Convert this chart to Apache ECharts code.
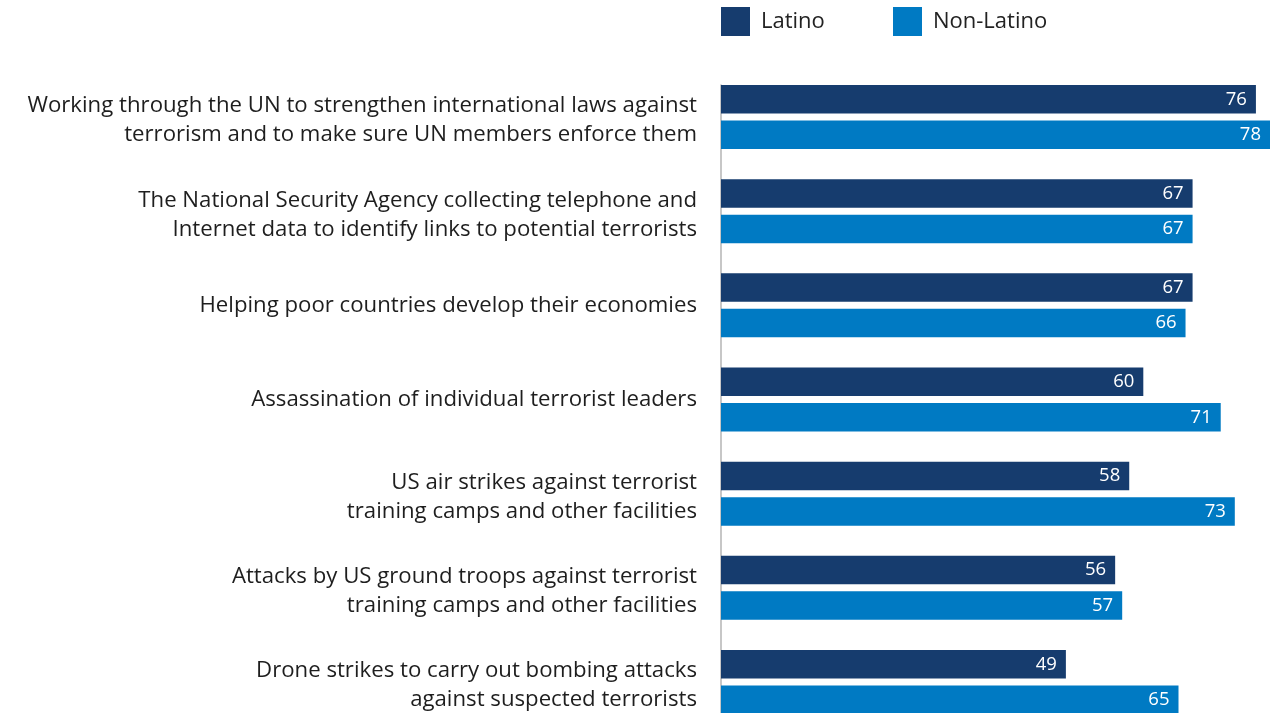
<!DOCTYPE html>
<html>
<head>
<meta charset="utf-8">
<style>
  html, body { margin: 0; padding: 0; background: #ffffff; width: 1271px; height: 713px; overflow: hidden; }
  #chart { width: 1271px; height: 745px; }
</style>
<script src="https://cdn.jsdelivr.net/npm/echarts@6/dist/echarts.min.js"></script>
</head>
<body>
<div id="chart"></div>
<script>
const categories = [
  "Working through the UN to strengthen international laws against\nterrorism and to make sure UN members enforce them",
  "The National Security Agency collecting telephone and\nInternet data to identify links to potential terrorists",
  "Helping poor countries develop their economies",
  "Assassination of individual terrorist leaders",
  "US air strikes against terrorist\ntraining camps and other facilities",
  "Attacks by US ground troops against terrorist\ntraining camps and other facilities",
  "Drone strikes to carry out bombing attacks\nagainst suspected terrorists"
];
const seriesNames = ["Latino", "Non-Latino"];
const latino = [76, 67, 67, 60, 58, 56, 49];
const nonLatino = [78, 67, 66, 71, 73, 57, 65];
const spacer = [0, 0, 0, 0, 0, 0, 0];

const colors = ["#163c6e", "#007ac3"];
const FONT = "'Open Sans', 'Noto Sans', sans-serif";

const chart = echarts.init(document.getElementById("chart"), null, { renderer: "canvas" });

const bandH = 94.17;
const barH = 28.5;
const gapPx = 7;

const valueLabel = {
  show: true,
  position: "insideRight",
  distance: 9,
  color: "#ffffff",
  fontFamily: FONT,
  fontSize: 18.5
};

const legendText = { fontFamily: FONT, fontSize: 22, color: "#222222", padding: [4, 0, 0, 6] };

chart.setOption({
  animation: false,
  backgroundColor: "#ffffff",
  textStyle: { fontFamily: FONT },
  legend: [
    {
      data: [seriesNames[0]],
      left: 721, top: 7, padding: 0,
      itemWidth: 29, itemHeight: 29,
      icon: "rect",
      textStyle: legendText
    },
    {
      data: [seriesNames[1]],
      left: 893, top: 7, padding: 0,
      itemWidth: 29, itemHeight: 29,
      icon: "rect",
      textStyle: legendText
    }
  ],
  grid: {
    left: 721,
    right: 1,
    top: 85,
    height: bandH * categories.length,
    containLabel: false
  },
  xAxis: {
    type: "value",
    min: 0,
    max: 78,
    show: false,
    splitLine: { show: false }
  },
  yAxis: {
    type: "category",
    inverse: true,
    data: categories,
    axisTick: { show: false },
    axisLine: { show: true, lineStyle: { color: "#b4b4b4", width: 1.5 } },
    axisLabel: {
      margin: 24,
      align: "right",
      fontFamily: FONT,
      fontSize: 22.2,
      lineHeight: 29,
      color: "#1e1e1e",
      formatter: function (v) {
        return v.indexOf("\n") >= 0 ? v + "\n{s| }" : v + "\n{t| }";
      },
      rich: {
        s: { fontSize: 1, lineHeight: 23, height: 23 },
        t: { fontSize: 1, lineHeight: 30, height: 30 }
      }
    }
  },
  series: [
    {
      name: seriesNames[0],
      type: "bar",
      data: latino,
      barWidth: barH,
      itemStyle: { color: colors[0] },
      label: valueLabel
    },
    {
      name: seriesNames[1],
      type: "bar",
      data: nonLatino,
      barWidth: barH,
      itemStyle: { color: colors[1] },
      label: valueLabel
    },
    {
      name: "spacer",
      type: "bar",
      data: spacer,
      barWidth: bandH - 2 * barH - 2 * gapPx,
      barGap: (gapPx / barH * 100).toFixed(2) + "%",
      itemStyle: { color: "rgba(0,0,0,0)" },
      label: { show: false },
      silent: true
    }
  ]
});
</script>
</body>
</html>
